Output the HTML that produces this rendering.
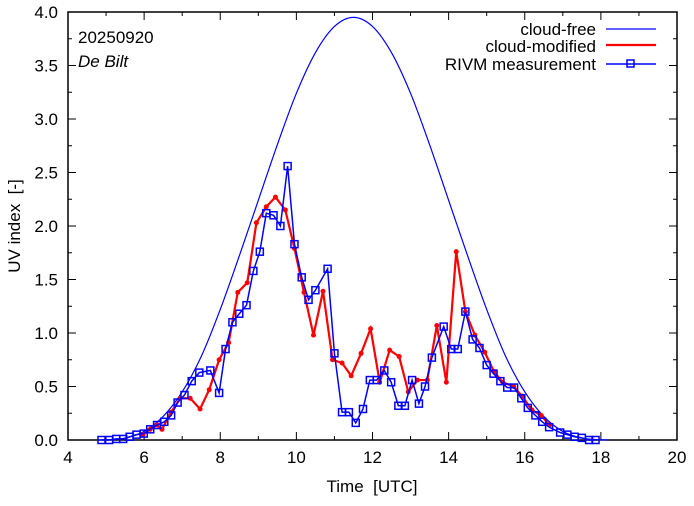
<!DOCTYPE html>
<html><head><meta charset="utf-8"><style>
body{margin:0;background:#fff}
svg text{font-family:"Liberation Sans",sans-serif;fill:#000;white-space:pre}
</style></head><body>
<svg id="chart" width="694" height="501" xmlns="http://www.w3.org/2000/svg">
<g id="axes"></g>
<g id="series"></g>
<text x="78" y="43" font-size="17">20250920</text>
<text x="78" y="67" font-size="17" font-style="italic">De Bilt</text>
<text x="372" y="492" font-size="17" text-anchor="middle">Time&#160;&#160;[UTC]</text>
<text transform="translate(20,226) rotate(-90)" font-size="17" text-anchor="middle">UV index&#160;&#160;[-]</text>
<g>
<text x="596" y="35" font-size="17" text-anchor="end">cloud-free</text>
<line x1="606" y1="29" x2="656" y2="29" stroke="#0000ff" stroke-width="1.2"/>
<text x="596" y="52" font-size="17" text-anchor="end">cloud-modified</text>
<line x1="606" y1="45" x2="656" y2="45" stroke="#ff0000" stroke-width="2.2"/>
<text x="596" y="70" font-size="17" text-anchor="end">RIVM measurement</text>
<line x1="606" y1="64" x2="656" y2="64" stroke="#0000ff" stroke-width="1.5"/>
<rect x="627" y="60" width="7" height="7" fill="none" stroke="#0000ff" stroke-width="1.5"/>
</g>
</svg>
<script>
const xTicks=[4,6,8,10,12,14,16,18,20];
const yTicks=[0,0.5,1,1.5,2,2.5,3,3.5,4];
const clearT=[4.8,5,5.5,6,6.5,7,7.5,8,8.5,9,9.5,10,10.5,11,11.5,12,12.5,13,13.5,14,14.5,15,15.5,16,16.5,17,17.5,18,18.2];
const clearV=[0,0.002,0.018,0.08,0.22,0.45,0.78,1.22,1.72,2.24,2.76,3.24,3.62,3.865,3.95,3.865,3.62,3.24,2.76,2.24,1.72,1.22,0.78,0.45,0.22,0.08,0.018,0.002,0];
const cloudT=[5.97,6.16,6.34,6.47,6.71,6.95,7.21,7.47,7.71,7.97,8.22,8.46,8.71,8.95,9.21,9.45,9.71,9.95,10.2,10.45,10.7,10.95,11.2,11.44,11.7,11.95,12.19,12.45,12.7,12.94,13.18,13.44,13.69,13.94,14.2,14.44,14.69,14.95,15.19,15.42,15.71,15.93,16.19,16.43,16.65];
const cloudV=[0.05,0.1,0.14,0.1,0.26,0.39,0.39,0.29,0.47,0.75,0.91,1.38,1.47,2.03,2.18,2.27,2.15,1.79,1.38,0.98,1.39,0.75,0.72,0.6,0.81,1.04,0.54,0.84,0.78,0.45,0.56,0.56,1.07,0.54,1.76,1.2,0.98,0.82,0.64,0.54,0.5,0.41,0.28,0.23,0.14];
const measT=[4.88,5.08,5.27,5.45,5.62,5.8,5.99,6.16,6.34,6.53,6.71,6.88,7.06,7.25,7.45,7.74,7.97,8.14,8.32,8.5,8.69,8.87,9.04,9.21,9.4,9.58,9.77,9.95,10.14,10.32,10.5,10.82,11.0,11.2,11.38,11.56,11.75,11.93,12.11,12.31,12.49,12.68,12.85,13.04,13.22,13.38,13.56,13.87,14.07,14.24,14.44,14.63,14.81,15.0,15.18,15.36,15.54,15.72,15.91,16.08,16.28,16.46,16.64,16.93,17.12,17.31,17.5,17.69,17.86];
const measV=[0,0,0.01,0.01,0.03,0.05,0.06,0.1,0.14,0.17,0.23,0.35,0.42,0.55,0.63,0.65,0.44,0.85,1.1,1.18,1.26,1.58,1.76,2.12,2.1,2.0,2.56,1.83,1.52,1.31,1.4,1.6,0.81,0.26,0.26,0.16,0.29,0.56,0.56,0.65,0.54,0.32,0.32,0.56,0.34,0.5,0.77,1.06,0.85,0.85,1.2,0.94,0.86,0.7,0.62,0.55,0.49,0.49,0.39,0.3,0.23,0.17,0.12,0.07,0.05,0.03,0.02,0,0];
const L=68,R=677,T=12,B=440,X0=4,X1=20,Y0=0,Y1=4;
const sx=t=>L+(t-X0)/(X1-X0)*(R-L);
const sy=v=>B-(v-Y0)/(Y1-Y0)*(B-T);
const NS='http://www.w3.org/2000/svg';
function mk(tag,attrs,parent){const e=document.createElementNS(NS,tag);for(const k in attrs)e.setAttribute(k,attrs[k]);parent.appendChild(e);return e;}
const ax=document.getElementById('axes'),se=document.getElementById('series');
const frame=mk('rect',{x:L,y:T,width:R-L,height:B-T,fill:'none',stroke:'#000','stroke-width':1.5},ax);


for(let t=X0;t<=X1;t+=1){const x=sx(t);const len=(t%2===0)?8:4;
mk('line',{x1:x,y1:B,x2:x,y2:B-len,stroke:'#000','stroke-width':1},ax);
mk('line',{x1:x,y1:T,x2:x,y2:T+len,stroke:'#000','stroke-width':1},ax);}
xTicks.forEach(t=>{const e=mk('text',{x:sx(t),y:B+23,'font-size':17,'text-anchor':'middle'},ax);e.textContent=String(t);

});
for(let v=Y0;v<=Y1+1e-9;v+=0.25){const y=sy(v);const len=(Math.abs(v*2-Math.round(v*2))<1e-6)?8:4;
mk('line',{x1:L,y1:y,x2:L+len,y2:y,stroke:'#000','stroke-width':1},ax);
mk('line',{x1:R,y1:y,x2:R-len,y2:y,stroke:'#000','stroke-width':1},ax);}
yTicks.forEach(v=>{const e=mk('text',{x:L-10,y:sy(v)+6,'font-size':17,'text-anchor':'end'},ax);e.textContent=v.toFixed(1);

});
let pts=clearT.map((t,i)=>[sx(t),sy(clearV[i])]);
let d='M'+pts[0][0]+','+pts[0][1];
for(let i=0;i<pts.length-1;i++){const p0=pts[Math.max(0,i-1)],p1=pts[i],p2=pts[i+1],p3=pts[Math.min(pts.length-1,i+2)];
const c1=[p1[0]+(p2[0]-p0[0])/6,Math.min(B,p1[1]+(p2[1]-p0[1])/6)],c2=[p2[0]-(p3[0]-p1[0])/6,Math.min(B,p2[1]-(p3[1]-p1[1])/6)];
d+=' C'+c1+' '+c2+' '+p2;}
const cf=mk('path',{d:d,fill:'none',stroke:'#0000ff','stroke-width':1.2},se);


const cm=mk('polyline',{points:cloudT.map((t,i)=>sx(t)+','+sy(cloudV[i])).join(' '),fill:'none',stroke:'#ff0000','stroke-width':2.2},se);


cloudT.forEach((t,i)=>{const c=mk('circle',{cx:sx(t),cy:sy(cloudV[i]),r:2.5,fill:'#ff0000'},se);

});
const ml=mk('polyline',{points:measT.map((t,i)=>sx(t)+','+sy(measV[i])).join(' '),fill:'none',stroke:'#0000ff','stroke-width':1.5},se);


measT.forEach((t,i)=>{const r=mk('rect',{x:sx(t)-3.5,y:sy(measV[i])-3.5,width:7,height:7,fill:'none',stroke:'#0000ff','stroke-width':1.5},se);

});
</script>
</body></html>
